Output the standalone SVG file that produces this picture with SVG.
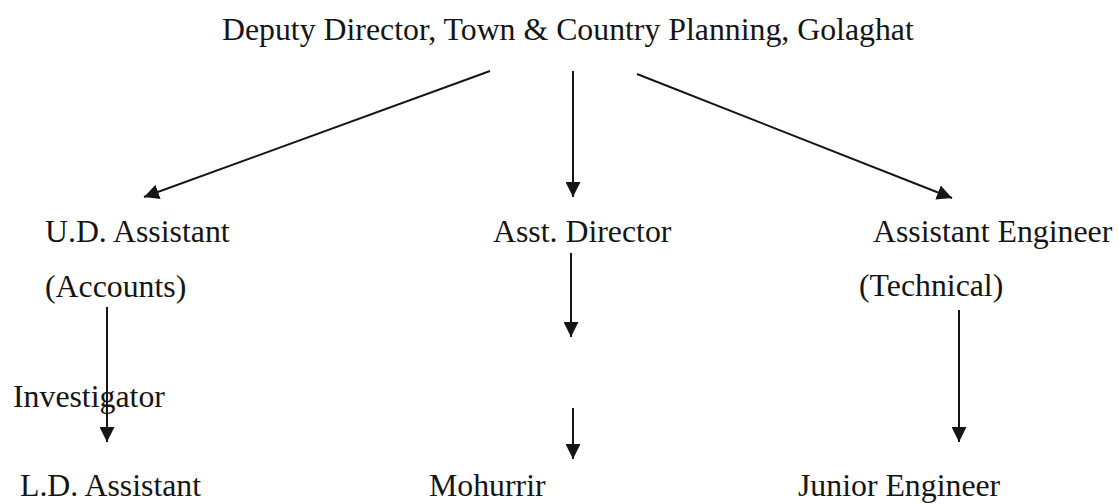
<svg xmlns="http://www.w3.org/2000/svg" width="1119" height="504" viewBox="0 0 1119 504">
  <style>
    text { font-family: "Liberation Serif", "Times New Roman", serif; font-size: 31.8px; fill: #151515; }
    .conn { stroke: #151515; stroke-width: 2; fill: none; marker-end: url(#arrow); }
  </style>
  <defs>
    <marker id="arrow" markerUnits="userSpaceOnUse" markerWidth="16" markerHeight="15" refX="15" refY="7.5" orient="auto">
      <path d="M0,0 L15,7.5 L0,15 Z" fill="#151515"/>
    </marker>
  </defs>
  <rect width="1119" height="504" fill="#ffffff"/>
  <g id="connectors">
    <line class="conn" x1="490" y1="71" x2="144" y2="197"/>
    <line class="conn" x1="573" y1="71" x2="573" y2="197"/>
    <line class="conn" x1="637" y1="74" x2="952" y2="198"/>
    <line class="conn" x1="107" y1="307" x2="107" y2="442"/>
    <line class="conn" x1="571" y1="253" x2="571" y2="337"/>
    <line class="conn" x1="573" y1="408" x2="573" y2="459"/>
    <line class="conn" x1="959" y1="310" x2="959" y2="442"/>
  </g>
  <g id="node-deputy-director"><text x="222" y="40">Deputy Director, Town &amp; Country Planning, Golaghat</text></g>
  <g id="node-ud-assistant">
    <text x="45" y="242">U.D. Assistant</text>
    <text x="45" y="297">(Accounts)</text>
  </g>
  <g id="node-asst-director"><text x="493" y="242">Asst. Director</text></g>
  <g id="node-assistant-engineer">
    <text x="873" y="242">Assistant Engineer</text>
    <text x="859" y="296">(Technical)</text>
  </g>
  <g id="node-investigator"><text x="13" y="407">Investigator</text></g>
  <g id="node-ld-assistant"><text x="20" y="496">L.D. Assistant</text></g>
  <g id="node-mohurrir"><text x="429" y="496">Mohurrir</text></g>
  <g id="node-junior-engineer"><text x="798" y="496">Junior Engineer</text></g>
</svg>
